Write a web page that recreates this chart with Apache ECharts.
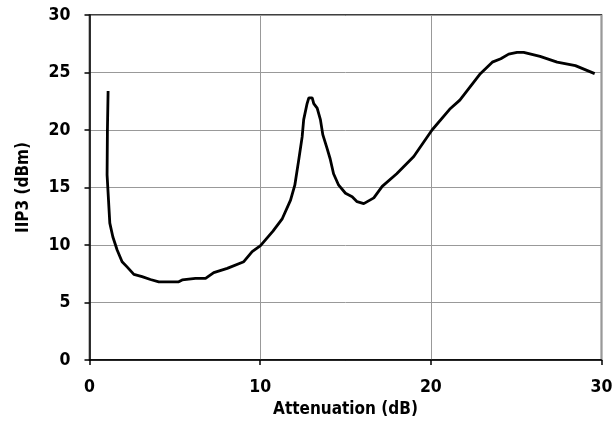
<!DOCTYPE html>
<html><head><meta charset="utf-8">
<script src="https://cdn.jsdelivr.net/npm/echarts@6/dist/echarts.min.js"></script>
<style>html,body{margin:0;padding:0;background:#fff}#c{width:616px;height:426px}</style>
</head><body><div id="c"></div>
<script>
const attenuation = [1.09,1.05,1.03,1.19,1.37,1.62,1.91,2.2,2.6,3.08,3.57,4.06,5.23,5.43,6.21,6.8,7.28,8.07,9.04,9.53,10.02,10.75,11.3,11.78,12.03,12.26,12.46,12.55,12.75,12.85,13.05,13.14,13.34,13.53,13.67,13.92,14.1,14.3,14.6,15.0,15.39,15.68,16.07,16.66,17.15,18.0,19.0,20.07,21.1,21.7,22.9,23.6,24.1,24.56,25.05,25.44,26.4,27.4,28.47,29.6];
const iip3 = [23.4,20.0,16.1,11.9,10.7,9.57,8.55,8.1,7.45,7.25,7.0,6.8,6.8,6.96,7.1,7.1,7.6,7.97,8.55,9.42,9.94,11.2,12.3,13.9,15.2,17.4,19.4,20.9,22.3,22.8,22.8,22.3,21.9,20.9,19.6,18.4,17.5,16.2,15.2,14.5,14.2,13.77,13.6,14.1,15.1,16.2,17.7,20.0,21.8,22.6,24.9,25.9,26.2,26.6,26.75,26.75,26.4,25.9,25.6,24.9];
const xTicks = [0,10,20,30];
const yTicks = [0,5,10,15,20,25,30];
const FONT = '"DejaVu Sans Condensed","DejaVu Sans",sans-serif';
const pts = attenuation.map((x,i)=>[x,iip3[i]]);
const chart = echarts.init(document.getElementById('c'), null, {renderer:'canvas'});
const lbl = {color:'#000', fontFamily:FONT, fontWeight:'bold', fontSize:17.5};
chart.setOption({
  animation:false,
  grid:{left:89.5,right:14.5,top:15,bottom:66,show:true,borderColor:'#000',borderWidth:1.5,backgroundColor:'transparent'},
  xAxis:{type:'value',min:xTicks[0],max:xTicks[xTicks.length-1],interval:10,
    name:'Attenuation (dB)',nameLocation:'middle',nameGap:40,
    nameTextStyle:{...lbl,fontSize:17},
    axisLine:{lineStyle:{color:'#000',width:1.5}},
    axisTick:{show:true,inside:false,length:5,lineStyle:{color:'#000',width:1.5}},
    axisLabel:{...lbl,margin:18},
    splitLine:{show:true,lineStyle:{color:'#999',width:1}}},
  yAxis:{type:'value',min:yTicks[0],max:yTicks[yTicks.length-1],interval:5,
    name:'IIP3 (dBm)',nameLocation:'middle',nameGap:57,
    nameTextStyle:{...lbl,fontSize:17},
    axisLine:{show:true,lineStyle:{color:'#000',width:1.5}},
    axisTick:{show:true,inside:false,length:5,lineStyle:{color:'#000',width:1.5}},
    axisLabel:{...lbl,margin:19},
    splitLine:{show:true,lineStyle:{color:'#999',width:1}}},
  series:[{type:'line',data:pts,showSymbol:false,smooth:false,
    lineStyle:{color:'#000',width:2.8},z:5}]
});
</script></body></html>
